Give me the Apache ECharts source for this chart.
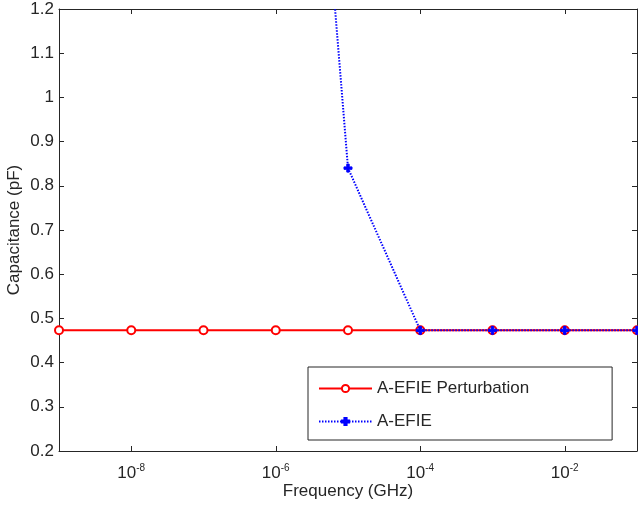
<!DOCTYPE html>
<html><head><meta charset="utf-8">
<script src="https://cdn.jsdelivr.net/npm/echarts@6/dist/echarts.min.js"></script>
<style>html,body{margin:0;padding:0;background:#fff}#c{width:638px;height:508px}</style>
</head><body><div id="c"></div>
<script>
const frequencies = [1e-9, 1e-8, 1e-7, 1e-6, 1e-5, 1e-4, 1e-3, 1e-2, 1e-1];
const perturbation = [0.473, 0.473, 0.473, 0.473, 0.473, 0.473, 0.473, 0.473, 0.473];
const efie = [null, null, null, 2.85, 0.84, 0.473, 0.473, 0.473, 0.473];
const yTicks = [0.2, 0.3, 0.4, 0.5, 0.6, 0.7, 0.8, 0.9, 1, 1.1, 1.2];

const pairs = (ys) => frequencies.map((f, i) => [f, ys[i]]).filter(p => p[1] !== null);
const axisCol = '#262626';
const font = 'Liberation Sans, Arial, sans-serif';
const fs = 17;

const chart = echarts.init(document.getElementById('c'), null, {renderer: 'canvas'});
const xBase = {
  type: 'log', logBase: 100, min: 1e-9, max: 1e-1,
  axisLine: {lineStyle: {color: axisCol, width: 1}},
  axisTick: {inside: true, length: 5, lineStyle: {color: axisCol}},
  splitLine: {show: false}, minorTick: {show: false}
};
const yBase = {
  type: 'value', min: 0.2, max: 1.2, interval: 0.1,
  axisLine: {show: true, lineStyle: {color: axisCol, width: 1}},
  axisTick: {show: true, inside: true, length: 5, lineStyle: {color: axisCol}},
  splitLine: {show: false}
};
chart.setOption({
  animation: false,
  backgroundColor: '#fff',
  textStyle: {fontFamily: font},
  grid: {left: 59, right: 1, top: 9, bottom: 57, containLabel: false, outerBoundsMode: 'none'},
  xAxis: [
    Object.assign({}, xBase, {
      position: 'bottom',
      name: 'Frequency (GHz)', nameLocation: 'middle', nameGap: 32, nameMoveOverlap: false,
      nameTextStyle: {color: axisCol, fontSize: fs, fontFamily: font},
      axisLabel: {
        margin: 12, showMinLabel: false, showMaxLabel: false, color: axisCol,
        formatter: function (v) {
          const e = Math.round(Math.log10(v));
          return '{b|10}{s|' + e + '}';
        },
        rich: {
          b: {fontSize: fs, color: axisCol, fontFamily: font},
          s: {fontSize: 10, color: axisCol, fontFamily: font, padding: [0, 0, 10, 0]}
        }
      }
    }),
    Object.assign({}, xBase, {position: 'top', axisLabel: {show: false}})
  ],
  yAxis: [
    Object.assign({}, yBase, {
      position: 'left',
      name: 'Capacitance (pF)', nameLocation: 'middle', nameGap: 36, nameRotate: 90, nameMoveOverlap: false,
      nameTextStyle: {color: axisCol, fontSize: fs, fontFamily: font},
      axisLabel: {
        margin: 5, color: axisCol, fontSize: fs, fontFamily: font,
        formatter: function (v) { return String(Math.round(v * 10) / 10); }
      }
    }),
    Object.assign({}, yBase, {position: 'right', axisLabel: {show: false}})
  ],
  legend: {
    orient: 'vertical', left: 308, top: 367,
    padding: [13, 83, 10, 10],
    itemWidth: 53, itemHeight: 9, itemGap: 16,
    backgroundColor: '#fff', borderColor: axisCol, borderWidth: 1, borderRadius: 0,
    textStyle: {fontSize: fs, color: axisCol, fontFamily: font},
    data: ['A-EFIE Perturbation', 'A-EFIE']
  },
  series: [
    {
      name: 'A-EFIE Perturbation', type: 'line', data: pairs(perturbation),
      xAxisIndex: 0, yAxisIndex: 0,
      color: '#ff0000',
      lineStyle: {color: '#ff0000', width: 2},
      symbol: 'emptyCircle', symbolSize: 8,
      itemStyle: {color: '#ff0000', borderColor: '#ff0000', borderWidth: 2},
      clip: true, z: 2
    },
    {
      name: 'A-EFIE', type: 'line', data: pairs(efie),
      xAxisIndex: 0, yAxisIndex: 0,
      color: '#0000ff',
      lineStyle: {color: '#0000ff', width: 2, type: [1.5, 1.5]},
      symbol: 'path://M-1.2,-4H1.2V-1.2H4V1.2H1.2V4H-1.2V1.2H-4V-1.2H-1.2Z', symbolSize: 8,
      itemStyle: {color: '#0000ff', borderColor: '#0000ff', borderWidth: 1},
      clip: true, z: 3
    }
  ]
});
</script></body></html>
